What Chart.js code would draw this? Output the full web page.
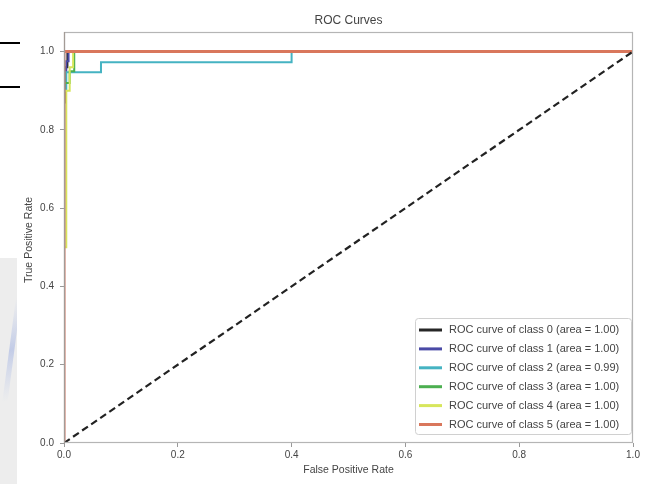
<!DOCTYPE html>
<html>
<head>
<meta charset="utf-8">
<script src="https://cdn.jsdelivr.net/npm/chart.js@4/dist/chart.umd.min.js"></script>
<style>
html,body{margin:0;padding:0;background:#fff;}
#wrap{width:650px;height:484px;position:relative;}
</style>
</head>
<body>
<div id="wrap"><canvas id="c" width="650" height="484"></canvas></div>
<script>
// ---- data ----
const chartTitle = "ROC Curves";
const xTitle = "False Positive Rate";
const yTitle = "True Positive Rate";
const xTicks = [0.0, 0.2, 0.4, 0.6, 0.8, 1.0];
const yTicks = [0.0, 0.2, 0.4, 0.6, 0.8, 1.0];

const classNames = ["ROC curve of class 0 (area = 1.00)", "ROC curve of class 1 (area = 1.00)",
  "ROC curve of class 2 (area = 0.99)", "ROC curve of class 3 (area = 1.00)",
  "ROC curve of class 4 (area = 1.00)", "ROC curve of class 5 (area = 1.00)"];
const classColors = ["#262626", "#4a4aa6", "#45b3c2", "#4caf50", "#d7e65c", "#d9775c"];

const fpr0 = [0, 0, 0.002, 0.002, 0.006, 0.006, 1];
const tpr0 = [0, 0.87, 0.87, 0.96, 0.96, 1, 1];
const fpr1 = [0, 0, 0.004, 0.004, 0.008, 0.008, 1];
const tpr1 = [0, 0.95, 0.95, 0.975, 0.975, 1, 1];
const fpr2 = [0, 0, 0.004, 0.004, 0.065, 0.065, 0.40, 0.40, 1];
const tpr2 = [0, 0.90, 0.90, 0.947, 0.947, 0.973, 0.973, 1, 1];
const fpr3 = [0, 0, 0.01, 0.01, 0.018, 0.018, 1];
const tpr3 = [0, 0.92, 0.92, 0.95, 0.95, 1, 1];
const fpr4 = [0, 0, 0.004, 0.004, 0.01, 0.01, 0.016, 0.016, 1];
const tpr4 = [0, 0.5, 0.5, 0.9, 0.9, 0.96, 0.96, 1, 1];
const fpr5 = [0, 0, 1];
const tpr5 = [0, 1, 1];
const chanceX = [0, 1];
const chanceY = [0, 1];

const fprs = [fpr0, fpr1, fpr2, fpr3, fpr4, fpr5];
const tprs = [tpr0, tpr1, tpr2, tpr3, tpr4, tpr5];

function pts(xs, ys){ return xs.map((x,i)=>({x:x, y:ys[i]})); }

const datasets = classNames.map((name,i)=>({
  label: name,
  data: pts(fprs[i], tprs[i]),
  borderColor: classColors[i],
  backgroundColor: classColors[i],
  borderWidth: i === 5 ? 3 : 2,
  pointRadius: 0,
  showLine: true,
  fill: false,
  tension: 0,
  order: 6 - i
}));
datasets.push({
  label: "chance",
  data: pts(chanceX, chanceY),
  borderColor: "#222",
  borderWidth: 2.2,
  borderDash: [7, 4],
  pointRadius: 0,
  showLine: true,
  fill: false,
  order: 0
});

const TXT = "#444";
const FONT = '"Liberation Sans", Arial, sans-serif';

const decor = {
  id: 'decor',
  beforeDraw(chart){
    const ctx = chart.ctx;
    ctx.save();
    ctx.fillStyle = '#fff';
    ctx.fillRect(0,0,chart.width,chart.height);
    // left page strip
    ctx.fillStyle = '#ededed';
    ctx.fillRect(0, 258, 17, 226);
    const g = ctx.createLinearGradient(0, 300, 17, 400);
    g.addColorStop(0, 'rgba(200,210,235,0)');
    g.addColorStop(0.5, 'rgba(190,200,230,0.9)');
    g.addColorStop(1, 'rgba(200,210,235,0)');
    ctx.fillStyle = g;
    ctx.beginPath();
    ctx.moveTo(0, 420); ctx.lineTo(17, 290); ctx.lineTo(17, 330); ctx.lineTo(0, 460);
    ctx.closePath(); ctx.fill();
    // black marks top-left
    ctx.fillStyle = '#000';
    ctx.fillRect(0, 42, 20, 2);
    ctx.fillRect(0, 86, 20, 2);
    ctx.restore();
  },
  afterDatasetsDraw(chart){
    const ctx = chart.ctx, a = chart.chartArea;
    ctx.save();
    ctx.strokeStyle = '#b5b5b5';
    ctx.lineWidth = 1.2;
    ctx.strokeRect(a.left+0.5, a.top+0.5, a.right-a.left-1, a.bottom-a.top-1);
    ctx.strokeStyle = '#a39b96';
    ctx.beginPath(); ctx.moveTo(a.left+0.5, a.top); ctx.lineTo(a.left+0.5, a.bottom); ctx.stroke();
    ctx.restore();
  },
  afterDraw(chart){
    const ctx = chart.ctx, a = chart.chartArea;
    ctx.save();
    ctx.fillStyle = TXT;
    ctx.textAlign = 'center';
    ctx.textBaseline = 'middle';
    ctx.font = '12px ' + FONT;
    ctx.fillText(chartTitle, (a.left+a.right)/2, 21);
    ctx.font = '10.5px ' + FONT;
    ctx.fillText(xTitle, (a.left+a.right)/2, 470);
    ctx.save();
    ctx.translate(29, 240);
    ctx.rotate(-Math.PI/2);
    ctx.fillText(yTitle, 0, 0);
    ctx.restore();
    // legend
    const bx = 415, by = 318, bw = 216, bh = 116;
    ctx.fillStyle = 'rgba(255,255,255,0.9)';
    ctx.strokeStyle = '#d0d0d0';
    ctx.lineWidth = 1;
    ctx.beginPath();
    if (ctx.roundRect) ctx.roundRect(bx+0.5, by+0.5, bw, bh, 3); else ctx.rect(bx+0.5, by+0.5, bw, bh);
    ctx.fill(); ctx.stroke();
    ctx.textAlign = 'left';
    ctx.font = '11px ' + FONT;
    classNames.forEach((name,i)=>{
      const y = 330 + i*18.9;
      ctx.strokeStyle = classColors[i];
      ctx.lineWidth = 3;
      ctx.beginPath(); ctx.moveTo(419, y); ctx.lineTo(442, y); ctx.stroke();
      ctx.fillStyle = TXT;
      ctx.fillText(name, 449, y);
    });
    ctx.restore();
  }
};

new Chart(document.getElementById('c'), {
  type: 'scatter',
  data: { datasets },
  options: {
    responsive: false,
    animation: false,
    devicePixelRatio: 1,
    layout: { padding: { top: 32, right: 17, left: 0, bottom: 0 } },
    plugins: { legend: { display: false }, title: { display: false }, tooltip: { enabled: false } },
    scales: {
      x: {
        type: 'linear', min: 0, max: 1,
        afterFit(s){ s.height = 41; },
        afterBuildTicks(s){ s.ticks = xTicks.map(v=>({value:v})); },
        ticks: { color: TXT, font: { size: 10, family: FONT }, padding: 2, maxRotation: 0,
                 callback: v => Number(v).toFixed(1) },
        grid: { drawOnChartArea: false, drawTicks: true, tickLength: 4, color: '#999' },
        border: { display: false }
      },
      y: {
        type: 'linear', min: 0, max: 1.05,
        afterFit(s){ s.width = 64; },
        afterBuildTicks(s){ s.ticks = yTicks.map(v=>({value:v})); },
        ticks: { color: TXT, font: { size: 10, family: FONT }, padding: 6,
                 callback: v => Number(v).toFixed(1) },
        grid: { drawOnChartArea: false, drawTicks: true, tickLength: 4, color: '#999' },
        border: { display: false }
      }
    }
  },
  plugins: [decor]
});
</script>
</body>
</html>
